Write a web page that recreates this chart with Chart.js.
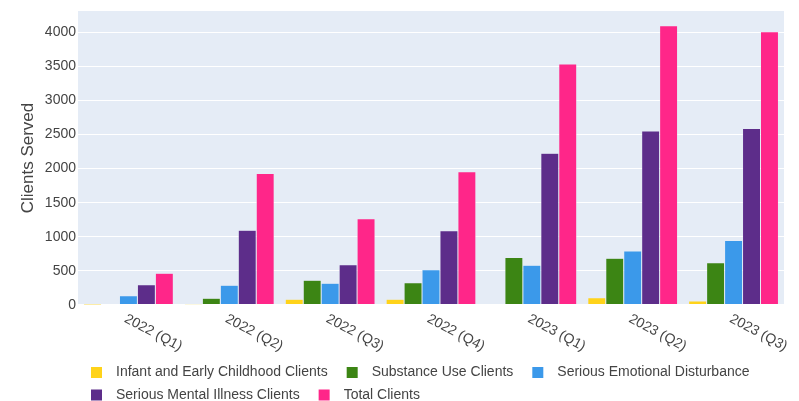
<!DOCTYPE html>
<html>
<head>
<meta charset="utf-8">
<script src="https://cdn.jsdelivr.net/npm/chart.js@4.4.1/dist/chart.umd.min.js"></script>
<style>
    body { margin: 0; background: #fff; }
    #wrap { width: 799px; height: 401px; position: relative; }
</style>
</head>
<body>
<div id="wrap"><canvas id="myChart"></canvas></div>
<script>
// quarters on the x axis
const quarters = ["2022 (Q1)", "2022 (Q2)", "2022 (Q3)", "2022 (Q4)", "2023 (Q1)", "2023 (Q2)", "2023 (Q3)"];

// clients served per quarter, by group
const infantClients = [2, 6, 83, 83, 18, 107, 59];
const substanceClients = [15, 98, 362, 327, 698, 684, 619];
const sedClients = [136, 288, 318, 517, 581, 791, 947];
const smiClients = [297, 1094, 590, 1088, 2225, 2552, 2587];
const totalClients = [464, 1928, 1264, 1952, 3533, 4095, 4007];

// y axis tick labels
const yTicks = [0, 500, 1000, 1500, 2000, 2500, 3000, 3500, 4000];

const seriesNames = [
    "Infant and Early Childhood Clients",
    "Substance Use Clients",
    "Serious Emotional Disturbance",
    "Serious Mental Illness Clients",
    "Total Clients"
];
const seriesColors = ["#FFD31A", "#3C8514", "#3B99EA", "#5D2D8A", "#FF2689"];
const seriesValues = [infantClients, substanceClients, sedClients, smiClients, totalClients];

const yMax = 4310;

const FONT = '"Liberation Sans", Arial, sans-serif';
const TEXT_COLOR = "#444";

Chart.defaults.font.family = FONT;
Chart.defaults.color = TEXT_COLOR;

// light blue-grey panel behind the bars
const plotBackground = {
    id: "plotBackground",
    beforeDraw: function (chart) {
        const a = chart.chartArea;
        const ctx = chart.ctx;
        ctx.save();
        ctx.fillStyle = "#E5ECF6";
        ctx.fillRect(a.left, a.top, a.right - a.left, a.bottom - a.top);
        ctx.restore();
    }
};

// slanted quarter labels under each group
const slantedLabels = {
    id: "slantedLabels",
    afterDraw: function (chart) {
        const xScale = chart.scales.x;
        const ctx = chart.ctx;
        ctx.save();
        ctx.font = "14px " + FONT;
        ctx.fillStyle = TEXT_COLOR;
        ctx.textAlign = "left";
        ctx.textBaseline = "middle";
        xScale.getLabels().forEach(function (label, i) {
            const x = xScale.getPixelForTick(i);
            ctx.save();
            ctx.translate(x - 3, chart.chartArea.bottom + 13);
            ctx.rotate(28 * Math.PI / 180);
            ctx.fillText(label, 0, 0);
            ctx.restore();
        });
        ctx.restore();
    }
};

// two-row legend along the bottom
const bottomLegend = {
    id: "bottomLegend",
    afterDraw: function (chart) {
        const ctx = chart.ctx;
        ctx.save();
        ctx.font = "14px " + FONT;
        ctx.textAlign = "left";
        ctx.textBaseline = "middle";
        let x = 91;
        let y = 372.5;
        chart.data.datasets.forEach(function (ds) {
            const w = ctx.measureText(ds.label).width;
            if (x + 25 + w > 770) {
                x = 91;
                y += 22.5;
            }
            ctx.fillStyle = ds.backgroundColor;
            ctx.fillRect(x, y - 5.5, 11, 11);
            ctx.fillStyle = TEXT_COLOR;
            ctx.fillText(ds.label, x + 25, y);
            x += 25 + w + 19;
        });
        ctx.restore();
    }
};

const datasets = seriesNames.map(function (name, i) {
    return {
        label: name,
        data: seriesValues[i],
        backgroundColor: seriesColors[i],
        borderColor: "#E5ECF6",
        borderWidth: 0.5,
        categoryPercentage: 0.89,
        barPercentage: 1.0
    };
});

const config = {
    type: "bar",
    data: {
        labels: quarters,
        datasets: datasets
    },
    options: {
        responsive: true,
        maintainAspectRatio: false,
        animation: false,
        layout: {
            padding: { top: 11, right: 15, left: 0, bottom: 0 }
        },
        plugins: {
            legend: { display: false },
            tooltip: { enabled: false }
        },
        scales: {
            x: {
                grid: { display: false },
                border: { display: false },
                ticks: { display: false },
                afterFit: function (scale) {
                    scale.height = 96;
                }
            },
            y: {
                min: 0,
                max: yMax,
                border: { display: false },
                grid: {
                    color: "#ffffff",
                    lineWidth: function (c) {
                        return c.tick && c.tick.value === 0 ? 2 : 1;
                    },
                    drawTicks: false
                },
                ticks: {
                    padding: 2,
                    color: TEXT_COLOR,
                    font: { size: 14 },
                    autoSkip: false,
                    callback: function (value) {
                        return String(value);
                    }
                },
                afterBuildTicks: function (scale) {
                    scale.ticks = yTicks.map(function (v) {
                        return { value: v };
                    });
                },
                title: {
                    display: true,
                    text: "Clients Served",
                    color: TEXT_COLOR,
                    font: { size: 17 },
                    padding: { top: 18, bottom: 0 }
                },
                afterFit: function (scale) {
                    scale.width = 78;
                }
            }
        }
    },
    plugins: [plotBackground, slantedLabels, bottomLegend]
};

const myChart = new Chart(document.getElementById("myChart"), config);
</script>
</body>
</html>
